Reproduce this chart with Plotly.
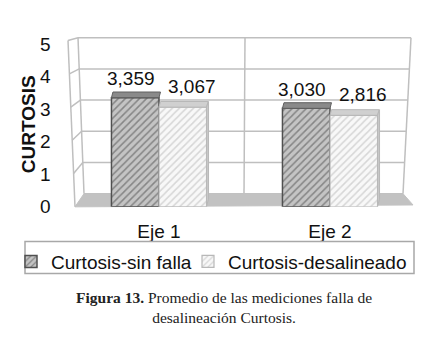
import plotly.graph_objects as go

# ---------------- data ----------------
categories = ["Eje 1", "Eje 2"]
series_names = ["Curtosis-sin falla", "Curtosis-desalineado"]
sin_falla = [3.359, 3.030]
desalineado = [3.067, 2.816]
y_ticks = [0, 1, 2, 3, 4, 5]
y_title = "CURTOSIS"
caption_bold = "Figura 13."
caption_rest = " Promedio de las mediciones falla de<br>desalineación Curtosis."

# ---------------- geometry (pixels of the target picture) ----------------
W, H = 447, 347
OX, OY = 8, 8          # html body margin
def px(x): return (x - OX) / W
def py(y): return 1 - (y - OY) / H

FRONT_B, FRONT_T = 209, 36      # bar axis: value 0 / value 5
FR_L, FR_R = 73.5, 415.5        # bar axis x domain
BARGAP = 0.444
YMAX = 5
FONT = "Liberation Sans, Arial, sans-serif"
GRID = "#bfbfbf"

def val_to_px(v):
    return FRONT_B - v * (FRONT_B - FRONT_T) / YMAX
def cat_to_px(c):
    return FR_L + (c + 0.5) * (FR_R - FR_L) / len(categories)
bw = (1 - BARGAP) / 2           # one bar width in category units

# 3-D walls (slight perspective)
def back_y(v):  return 195 - v * (195 - 29) / YMAX
def back_xl(y): return 84 - (195 - y) * 6 / 166
def back_xr(y): return 403 + (195 - y) * 8 / 166
def front_y(v): return 209 - v * (209 - 32) / YMAX
def front_x(y): return 75 - (209 - y) * 7 / 177
def poly(pts):
    return "M" + " L".join(f"{px(a):.5f},{py(b):.5f}" for a, b in pts) + " Z"

fig = go.Figure()
fig.add_trace(go.Bar(
    x=categories, y=sin_falla, name=series_names[0],
    marker=dict(color="#a0a0a0", line=dict(color="#505050", width=1.5),
                pattern=dict(shape="/", fgcolor="#454545", bgcolor="#c4c4c4", size=5, solidity=0.3)),
    hoverinfo="skip", legend="legend"))
fig.add_trace(go.Bar(
    x=categories, y=desalineado, name=series_names[1],
    marker=dict(color="#d8d8d8", line=dict(color="#b8b8b8", width=1.2),
                pattern=dict(shape="/", fgcolor="#b4b4b4", bgcolor="#f8f8f8", size=5, solidity=0.3)),
    hoverinfo="skip", legend="legend2"))

shapes = []
# back wall grid and frame
for v in y_ticks:
    y = back_y(v)
    shapes.append(dict(type="line", xref="paper", yref="paper", layer="below",
                       x0=px(back_xl(y)), y0=py(y), x1=px(back_xr(y)), y1=py(y),
                       line=dict(color=GRID, width=1.5)))
for fx in (back_xl, back_xr):
    shapes.append(dict(type="line", xref="paper", yref="paper", layer="below",
                       x0=px(fx(back_y(0))), y0=py(back_y(0)), x1=px(fx(back_y(YMAX))), y1=py(back_y(YMAX)),
                       line=dict(color=GRID, width=1.5)))
shapes.append(dict(type="line", xref="paper", yref="paper", layer="below",
                   x0=px(244), y0=py(back_y(0)), x1=px(245), y1=py(back_y(YMAX)),
                   line=dict(color=GRID, width=1.5)))
# floor
floor = [(back_xl(195), 195), (back_xr(195), 195), (413, 207), (75, 209)]
shapes.append(dict(type="path", xref="paper", yref="paper", layer="below",
                   path=poly(floor), fillcolor="#c2c2c2", line=dict(color="#c2c2c2", width=1)))
# left wall
shapes.append(dict(type="line", xref="paper", yref="paper", layer="below",
                   x0=px(front_x(209)), y0=py(209), x1=px(front_x(32)), y1=py(32),
                   line=dict(color=GRID, width=1.5)))
for v in y_ticks[1:]:
    fy, by = front_y(v), back_y(v)
    shapes.append(dict(type="line", xref="paper", yref="paper", layer="below",
                       x0=px(front_x(fy)), y0=py(fy), x1=px(back_xl(by)), y1=py(by),
                       line=dict(color=GRID, width=1.5)))
# bar top / side faces
DEPTH = 6
for s, (vals, col, side) in enumerate([(sin_falla, "#8a8a8a", -1), (desalineado, "#d0d0d0", 1)]):
    for c, v in enumerate(vals):
        xl = cat_to_px(c + (side - 1) / 2 * bw)
        xr = cat_to_px(c + (side + 1) / 2 * bw)
        yt = val_to_px(v)
        pts = [(xl, yt), (xr, yt), (xr + 1.5, yt - DEPTH), (xl + 1.5, yt - DEPTH)]
        shapes.append(dict(type="path", xref="paper", yref="paper", layer="above",
                           path=poly(pts), fillcolor=col,
                           line=dict(color="#606060" if s == 0 else "#b8b8b8", width=1)))
        if s == 1:
            side_pts = [(xr, yt), (xr + 2, yt - DEPTH), (xr + 2, FRONT_B - 8), (xr, FRONT_B - 1)]
            shapes.append(dict(type="path", xref="paper", yref="paper", layer="above",
                               path=poly(side_pts), fillcolor="#c8c8c8",
                               line=dict(color="#b8b8b8", width=1)))
# legend frame
shapes.append(dict(type="rect", xref="paper", yref="paper", x0=px(25), x1=px(414), y0=py(246), y1=py(280),
                   line=dict(color="#a8a8a8", width=1.5), fillcolor="rgba(0,0,0,0)"))

annotations = []
for s, (vals, xs, ys) in enumerate([(sin_falla, -4.5, 19), (desalineado, 9, 21)]):
    for c, v in enumerate(vals):
        annotations.append(dict(
            x=c + (-0.5 if s == 0 else 0.5) * bw, y=v, xref="x", yref="y",
            text=f"{v:.3f}".replace(".", ","), showarrow=False,
            xshift=xs, yshift=ys, xanchor="center", yanchor="middle",
            font=dict(family=FONT, size=19, color="#111111")))
annotations.append(dict(x=px(28), y=py(121), xref="paper", yref="paper",
                        text=f"<b>{y_title}</b>", textangle=-90, showarrow=False,
                        xanchor="center", yanchor="middle",
                        font=dict(family=FONT, size=19, color="#111111")))
annotations.append(dict(x=px(224), y=py(316), xref="paper", yref="paper",
                        text=f"<b>{caption_bold}</b>{caption_rest}", showarrow=False,
                        align="center", xanchor="center", yanchor="middle",
                        font=dict(family="Liberation Serif, Times New Roman, serif",
                                  size=15.5, color="#222222")))

leg = dict(orientation="h", xanchor="left", yanchor="top", borderwidth=0, bgcolor="rgba(0,0,0,0)",
           font=dict(family=FONT, size=19, color="#111111"), itemwidth=30)
fig.update_layout(
    width=W, height=H, margin=dict(l=0, r=0, t=0, b=0),
    paper_bgcolor="white", plot_bgcolor="rgba(0,0,0,0)",
    barmode="group", bargap=BARGAP, bargroupgap=0,
    font=dict(family=FONT, size=19, color="#111111"),
    showlegend=True,
    legend=dict(leg, x=px(11), y=py(247)),
    legend2=dict(leg, x=px(188), y=py(247)),
    xaxis=dict(domain=[px(FR_L), px(FR_R)], anchor="y", type="category",
               showgrid=False, showline=False, zeroline=False, ticks="",
               ticklabelstandoff=11, tickfont=dict(family=FONT, size=19, color="#111111"),
               fixedrange=True),
    yaxis=dict(domain=[py(FRONT_B), py(FRONT_T)], anchor="x", range=[0, YMAX],
               tickvals=y_ticks, ticktext=[str(t) for t in y_ticks],
               showgrid=False, showline=False, zeroline=False, ticks="",
               ticklabelstandoff=22, tickfont=dict(family=FONT, size=19, color="#111111"),
               fixedrange=True),
    shapes=shapes, annotations=annotations,
)
fig.write_html("out.html")
